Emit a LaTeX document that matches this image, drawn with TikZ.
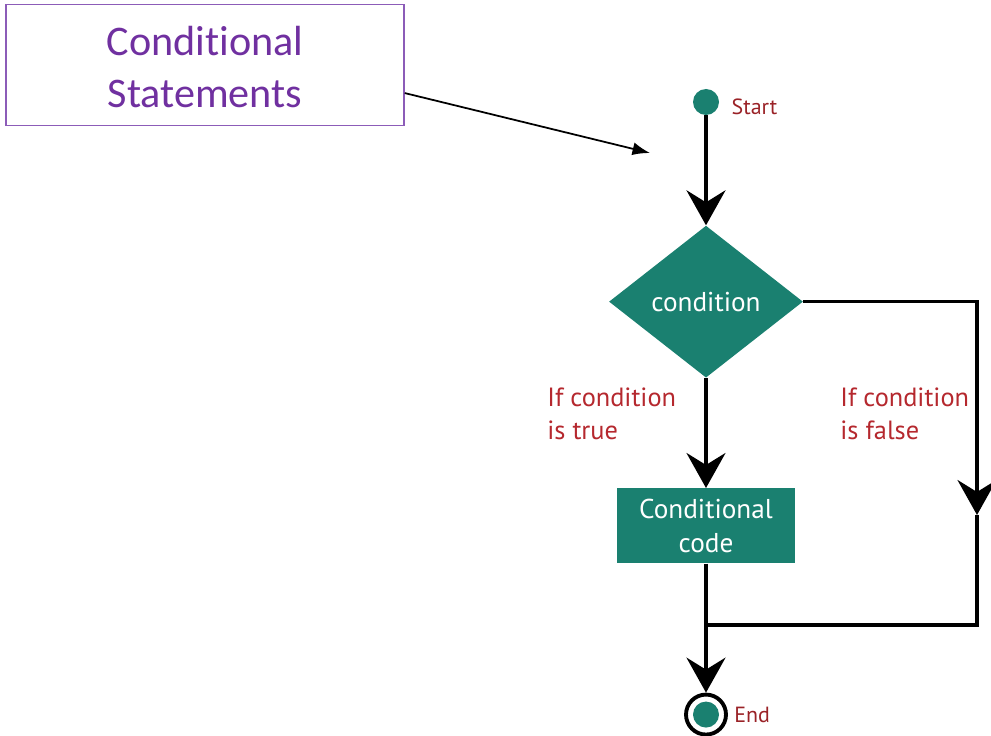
\documentclass[tikz,border=0pt]{standalone}
\usepackage{fontspec}
\setmainfont{PT Sans}
\newfontfamily\titlefont[Ligatures=NoCommon,Contextuals=NoAlternate]{Carlito}
\usetikzlibrary{arrows.meta,positioning,shapes.geometric}

\definecolor{flowteal}{RGB}{26,128,112}
\definecolor{labelred}{RGB}{181,40,46}
\definecolor{titlepurple}{RGB}{112,48,160}
\definecolor{titleframe}{RGB}{140,92,184}

\begin{document}
\begin{tikzpicture}[
    x=0.02cm, y=-0.02cm,
    every node/.style={align=center},
    dot/.style={circle,fill=flowteal,minimum size=0.52cm,inner sep=0pt},
    ring/.style={circle,draw=black,line width=2.2pt,fill=white,minimum size=0.8cm,inner sep=0pt},
    decision/.style={diamond,fill=flowteal,text=white,minimum width=3.88cm,minimum height=3.04cm,inner sep=0pt,font=\fontsize{15.5}{19}\selectfont},
    process/.style={rectangle,fill=flowteal,text=white,minimum width=3.56cm,minimum height=1.5cm,inner sep=0pt,font=\fontsize{15.5}{19}\selectfont},
    note/.style={text=labelred,align=left,inner sep=0pt,font=\fontsize{15}{19}\selectfont},
    tag/.style={text=labelred!85!black,inner sep=0pt,font=\fontsize{12.5}{14}\selectfont},
    titlebox/.style={rectangle,draw=titleframe,line width=0.9pt,text=titlepurple,minimum width=7.96cm,minimum height=2.42cm,font=\titlefont\fontsize{24}{29.5}\selectfont},
    flow/.style={-{Stealth[length=7mm,width=7.8mm,inset=2.4mm]},line width=2pt},
    line/.style={line width=2pt},
    pointer/.style={-{Latex[length=3.5mm,width=2.6mm]},line width=1pt}
]
\useasboundingbox (0,0) rectangle (991,736);

% title and its pointer
\node[titlebox] (title) at (205,65) {\raisebox{-0.12cm}[\height][\depth]{\begin{tabular}{@{}c@{}}Conditional\\Statements\end{tabular}}};
\coordinate (tip) at (650,153);
\draw[pointer] (title.-8.6) -- (tip);

% flow chart
\node[dot] (start) at (706,102) {};
\node[tag,right=0.24cm of start,yshift=-0.1cm] (startlbl) {Start};
\node[decision,below=2.2cm of start] (cond) {condition};
\node[process,below=2.2cm of cond] (code) {Conditional\\code};
\node[ring,below=2.58cm of code] (end) {};
\node[dot] (enddot) at (end) {};
\node[tag,right=0.12cm of end] (endlbl) {End};

\node[note,anchor=north west] (truelbl) at (547,387) {If condition\\is true};
\node[note,anchor=north west] (falselbl) at (840,387) {If condition\\is false};

\coordinate (fmid) at (977,515);
\coordinate (fcorner) at (977,625);
\coordinate (join) at (code |- fcorner);

\draw[flow] (start) -- (cond);
\draw[flow] (cond) -- (code);
\draw[flow] (code) -- (end);
\draw[flow] (cond.east) -| (fmid);
\draw[line] (fmid) -- (fcorner) -- (join);
\end{tikzpicture}
\end{document}
